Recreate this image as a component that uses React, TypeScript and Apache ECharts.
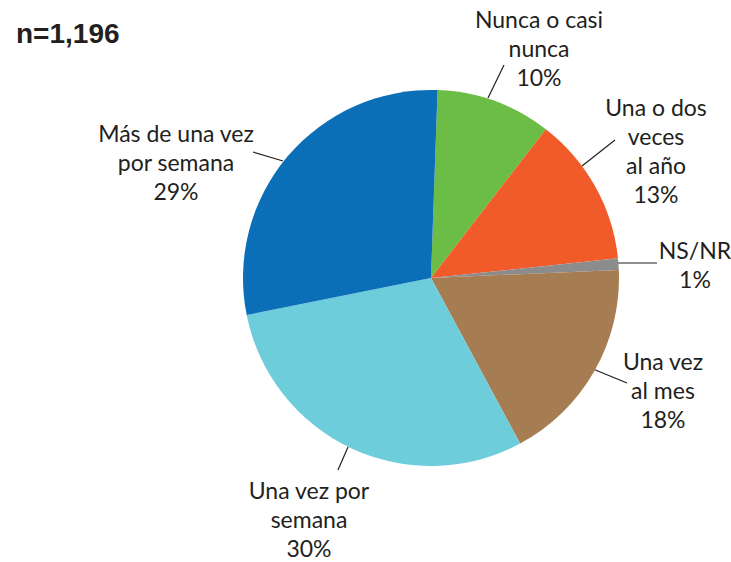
import React, { useEffect, useRef } from "react";
import * as echarts from "echarts";

const categories = [
  "Nunca o casi\nnunca",
  "Una o dos\nveces\nal año",
  "NS/NR",
  "Una vez\nal mes",
  "Una vez por\nsemana",
  "Más de una vez\npor semana",
];
const values = [10, 13, 1, 18, 30, 29];
const colors = ["#6cbd45", "#f15a29", "#8c8c8c", "#a67c52", "#6dcddb", "#0b6fb8"];
const sampleLabel = "n=1,196";

// label block centres and leader-line end points (annotation layout)
const labelCenters = [
  [539, 48],
  [656, 150],
  [695, 264],
  [663, 390],
  [309, 519],
  [176, 162],
];
const leaderLines = [
  [[488, 98], [504, 65]],
  [[582, 166], [615, 140]],
  [[617, 263], [657, 263]],
  [[593, 369], [627, 383]],
  [[348, 447], [338, 470]],
  [[283, 161], [253, 152]],
];

export default function App() {
  const ref = useRef<HTMLDivElement>(null);
  useEffect(() => {
    document.body.style.margin = "0";
    if (!ref.current) return;
    const chart = echarts.init(ref.current, null, { renderer: "svg" });
    chart.setOption({
      animation: false,
      backgroundColor: "#ffffff",
      title: {
        text: sampleLabel,
        left: 11,
        top: 14,
        textStyle: {
          fontFamily: "Liberation Sans",
          fontWeight: "bold",
          fontSize: 28,
          color: "#231f20",
        },
      },
      series: [
        {
          type: "pie",
          center: [431, 278],
          radius: [0, 188],
          startAngle: 88,
          clockwise: true,
          avoidLabelOverlap: false,
          data: categories.map((name, i) => ({
            name,
            value: values[i],
            itemStyle: { color: colors[i] },
          })),
          label: {
            show: true,
            position: "outside",
            formatter: (p: any) => `${p.name}\n${p.value}%`,
            fontFamily: "Lato",
            fontSize: 23,
            lineHeight: 29,
            color: "#231f20",
            align: "center",
          },
          labelLine: {
            show: true,
            lineStyle: { color: "#231f20", width: 1.2 },
          },
          labelLayout: (params: any) => {
            const i = params.dataIndex;
            return {
              x: labelCenters[i][0],
              y: labelCenters[i][1],
              align: "center",
              verticalAlign: "middle",
              labelLinePoints: leaderLines[i],
            };
          },
          emphasis: { disabled: true },
        },
      ],
    });
    return () => chart.dispose();
  }, []);
  return <div ref={ref} style={{ width: 731, height: 562 }} />;
}
